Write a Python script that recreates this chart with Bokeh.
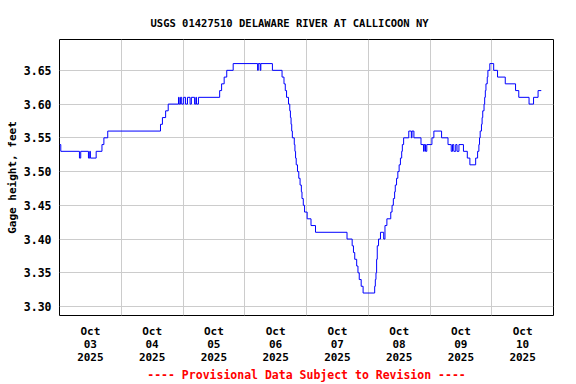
from datetime import datetime, timedelta
from bokeh.plotting import figure
from bokeh.models import FixedTicker, Range1d, Title, NumeralTickFormatter
from bokeh.embed import file_html
from bokeh.resources import INLINE

# Hours since 2025-10-03 00:00 at which the gage height changes, and the new value (feet)
change_hours = [0.0, 0.5, 7.75, 8.25, 11.25, 11.75, 12.0, 14.25, 16.5, 17.25, 18.75,
                39.25, 40.0, 41.25, 42.25, 46.25, 46.5, 47.0, 47.5, 48.25, 49.0, 49.75,
                50.75, 51.25, 52.5, 53.0, 53.25, 54.0, 62.25, 63.0, 64.0, 65.0, 67.5,
                77.0, 77.25, 78.0, 78.25, 82.75, 86.5, 87.25, 87.75, 88.25, 89.0, 89.5,
                89.75, 90.0, 90.25, 90.5, 91.25, 91.5, 91.75, 92.0, 92.5, 93.0, 93.5,
                94.0, 94.25, 94.75, 95.25, 96.25, 97.75, 99.5, 111.75, 113.75, 114.25,
                114.75, 115.5, 116.0, 116.5, 117.25, 118.0, 122.5, 122.75, 123.0, 123.25,
                123.5, 124.0, 124.75, 126.0, 126.5, 127.25, 128.75, 129.25, 129.75, 130.25,
                130.5, 131.0, 131.5, 132.0, 132.5, 133.0, 133.25, 133.75, 135.75, 136.75,
                137.0, 137.75, 140.5, 141.5, 141.75, 142.25, 142.75, 144.75, 145.5, 148.5,
                151.0, 152.25, 152.75, 153.25, 154.0, 154.5, 155.25, 157.0, 158.5, 159.5,
                161.75, 162.5, 163.0, 163.25, 163.5, 164.0, 164.25, 164.5, 165.0, 165.25,
                165.5, 165.75, 166.25, 166.5, 167.25, 168.75, 170.25, 173.25, 177.25, 178.5,
                182.5, 184.25, 186.0, 187.25]
gage_ft = [3.54, 3.53, 3.52, 3.53, 3.52, 3.53, 3.52, 3.53, 3.54, 3.55, 3.56,
           3.57, 3.58, 3.59, 3.60, 3.61, 3.60, 3.61, 3.60, 3.61, 3.60, 3.61,
           3.60, 3.61, 3.60, 3.61, 3.60, 3.61, 3.62, 3.63, 3.64, 3.65, 3.66,
           3.65, 3.66, 3.65, 3.66, 3.65, 3.64, 3.63, 3.62, 3.61, 3.60, 3.59,
           3.58, 3.57, 3.56, 3.55, 3.54, 3.53, 3.52, 3.51, 3.50, 3.49, 3.48,
           3.47, 3.46, 3.45, 3.44, 3.43, 3.42, 3.41, 3.40, 3.39, 3.38,
           3.37, 3.36, 3.35, 3.34, 3.33, 3.32, 3.33, 3.34, 3.35, 3.37,
           3.39, 3.40, 3.41, 3.40, 3.42, 3.43, 3.44, 3.45, 3.46, 3.47,
           3.48, 3.49, 3.50, 3.51, 3.52, 3.53, 3.54, 3.55, 3.56, 3.55,
           3.56, 3.55, 3.54, 3.53, 3.54, 3.53, 3.54, 3.55, 3.56, 3.55,
           3.54, 3.53, 3.54, 3.53, 3.54, 3.53, 3.54, 3.53, 3.52, 3.51,
           3.52, 3.53, 3.54, 3.55, 3.56, 3.57, 3.58, 3.59, 3.60, 3.61,
           3.62, 3.63, 3.64, 3.65, 3.66, 3.65, 3.64, 3.63, 3.62, 3.61,
           3.60, 3.61, 3.62, 3.62]

day_labels = ["Oct\n03\n2025", "Oct\n04\n2025", "Oct\n05\n2025", "Oct\n06\n2025",
              "Oct\n07\n2025", "Oct\n08\n2025", "Oct\n09\n2025", "Oct\n10\n2025"]
y_ticks = [3.30, 3.35, 3.40, 3.45, 3.50, 3.55, 3.60, 3.65]

title_text = "USGS 01427510 DELAWARE RIVER AT CALLICOON NY"
y_label = "Gage height, feet"
note_text = "---- Provisional Data Subject to Revision ----"

base = datetime(2025, 10, 3)
times = [base + timedelta(hours=h) for h in change_hours]

def ms(dt):
    return (dt - datetime(1970, 1, 1)).total_seconds() * 1000.0

mono = "DejaVu Sans Mono"

p = figure(width=576, height=384, x_axis_type="datetime", output_backend="svg",
           toolbar_location=None, min_border_left=59, min_border_right=23,
           min_border_top=39, min_border_bottom=68, background_fill_color="white",
           border_fill_color="white")
p.x_range = Range1d(base, base + timedelta(days=8))
p.y_range = Range1d(3.2867, 3.6957)

p.step(times, gage_ft, mode="after", line_color="#0000ff", line_width=1)

noon_ticks = [ms(base + timedelta(days=i, hours=12)) for i in range(8)]
midnight_ticks = [ms(base + timedelta(days=i)) for i in range(1, 8)]

xa = p.xaxis[0]
xa.ticker = FixedTicker(ticks=noon_ticks)
xa.major_label_overrides = {t: lab for t, lab in zip(noon_ticks, day_labels)}
xa.major_tick_line_color = None
xa.minor_tick_line_color = None
xa.major_tick_out = 0
xa.major_tick_in = 0
xa.minor_tick_out = 0
xa.axis_line_color = None
xa.major_label_text_color = "black"
xa.major_label_text_font = mono
xa.major_label_text_font_style = "bold"
xa.major_label_text_font_size = "11px"
xa.major_label_text_line_height = 1.0
xa.major_label_standoff = 9
xa.axis_label = note_text
xa.axis_label_text_color = "red"
xa.axis_label_text_font = mono
xa.axis_label_text_font_style = "bold"
xa.axis_label_text_font_size = "11.5px"
xa.axis_label_text_line_height = 1.0
xa.axis_label_standoff = 1

ya = p.yaxis[0]
ya.ticker = FixedTicker(ticks=y_ticks)
ya.formatter = NumeralTickFormatter(format="0.00")
ya.major_tick_line_color = None
ya.minor_tick_line_color = None
ya.major_tick_out = 0
ya.major_tick_in = 0
ya.minor_tick_out = 0
ya.axis_line_color = None
ya.major_label_text_color = "black"
ya.major_label_text_font = mono
ya.major_label_text_font_style = "bold"
ya.major_label_text_font_size = "11.5px"
ya.major_label_standoff = 8
ya.axis_label = y_label
ya.axis_label_text_color = "black"
ya.axis_label_text_font = mono
ya.axis_label_text_font_style = "bold"
ya.axis_label_text_font_size = "11px"
ya.axis_label_standoff = 2

p.xgrid.ticker = FixedTicker(ticks=midnight_ticks)
p.xgrid.grid_line_color = "#cccccc"
p.ygrid.grid_line_color = "#cccccc"
p.outline_line_color = "black"
p.outline_line_width = 1

p.add_layout(Title(text=title_text, align="left", offset=91, text_font=mono,
                   text_font_style="bold", text_font_size="10.5px",
                   text_color="black", standoff=22), "above")

open("out.html", "w").write(file_html(p, INLINE))
